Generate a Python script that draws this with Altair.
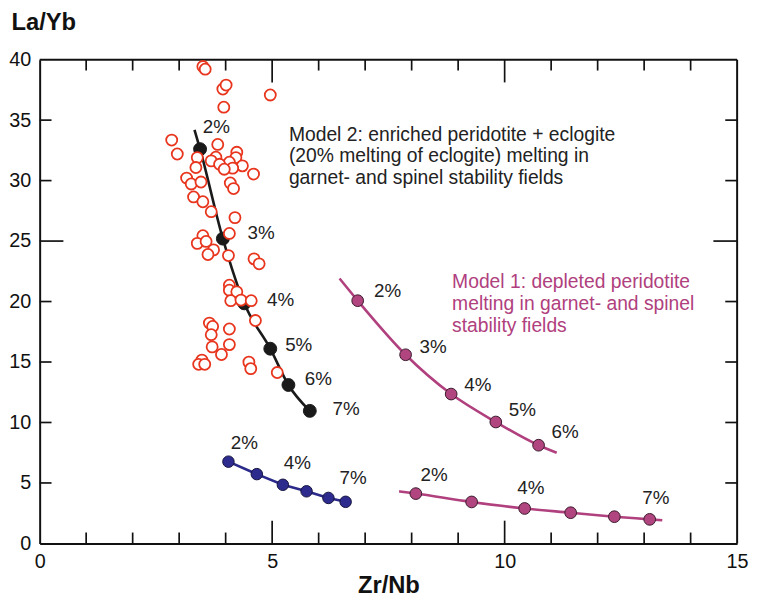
import altair as alt
import pandas as pd

FONT = "Liberation Sans"

# ---------------- data ----------------
red_x = [3.51, 3.56, 3.94, 4.01, 4.96, 3.96, 2.84, 2.96, 3.83, 3.39, 3.79, 3.69, 4.24, 4.22, 4.08,
         3.87, 4.36, 4.15, 3.97, 3.36, 4.60, 3.16, 3.26, 3.47, 4.10, 4.17, 3.31, 3.51, 3.69, 4.20,
         4.08, 3.51, 3.39, 3.58, 3.74, 3.62, 4.06, 4.61, 4.72, 4.08, 4.08, 4.24, 4.11, 4.33, 4.55,
         4.64, 3.65, 3.72, 3.69, 4.08, 3.71, 4.08, 3.91, 3.49, 3.42, 3.55, 4.50, 4.54, 5.11]
red_y = [39.43, 39.21, 37.57, 37.90, 37.08, 36.07, 33.35, 32.20, 32.99, 31.90, 31.93, 31.63, 32.34, 31.90, 31.52,
         31.35, 31.22, 31.03, 30.94, 31.08, 30.54, 30.21, 29.72, 29.88, 29.80, 29.34, 28.65, 28.25, 27.43, 26.94,
         25.63, 25.44, 24.81, 24.97, 24.27, 23.89, 23.80, 23.53, 23.12, 21.35, 20.94, 20.80, 20.07, 20.12, 20.07,
         18.43, 18.22, 17.94, 17.26, 17.73, 16.25, 16.44, 15.62, 15.16, 14.81, 14.81, 14.99, 14.45, 14.13]

# Model 2 (black)
m2_x = [3.45, 3.94, 4.40, 4.96, 5.35, 5.81]
m2_y = [32.6, 25.2, 19.85, 16.1, 13.1, 10.96]
m2_line_x = [3.33] + m2_x
m2_line_y = [34.2] + m2_y
m2_lab = ["2%", "3%", "4%", "5%", "6%", "7%"]
m2_lab_x = [3.51, 4.47, 4.89, 5.28, 5.70, 6.30]
m2_lab_y = [34.4, 25.7, 20.1, 16.4, 13.6, 11.1]

# Model 1 upper (magenta)
m1a_x = [6.84, 7.87, 8.85, 9.81, 10.73]
m1a_y = [20.07, 15.6, 12.35, 10.04, 8.12]
m1a_line_x = [6.45] + m1a_x + [11.12]
m1a_line_y = [21.9] + m1a_y + [7.5]
m1a_lab = ["2%", "3%", "4%", "5%", "6%"]
m1a_lab_x = [7.19, 8.17, 9.13, 10.09, 11.01]
m1a_lab_y = [20.9, 16.2, 13.1, 11.0, 9.24]

# Model 1 lower (magenta)
m1b_x = [8.09, 9.29, 10.43, 11.42, 12.36, 13.12]
m1b_y = [4.12, 3.43, 2.89, 2.54, 2.21, 1.99]
m1b_line_x = [7.73] + m1b_x + [13.39]
m1b_line_y = [4.31] + m1b_y + [1.91]
m1b_lab = ["2%", "4%", "7%"]
m1b_lab_x = [8.19, 10.27, 12.96]
m1b_lab_y = [5.67, 4.58, 3.76]

# Blue series
bl_x = [4.06, 4.67, 5.23, 5.74, 6.21, 6.58]
bl_y = [6.76, 5.73, 4.85, 4.31, 3.76, 3.44]
bl_lab = ["2%", "4%", "7%"]
bl_lab_x = [4.11, 5.25, 6.45]
bl_lab_y = [8.26, 6.63, 5.4]

model2_text = ["Model 2: enriched peridotite + eclogite",
               "(20% melting of eclogite) melting in",
               "garnet- and spinel stability fields"]
model2_pos = (5.36, 33.8)
model1_text = ["Model 1: depleted peridotite",
               "melting in garnet- and spinel",
               "stability fields"]
model1_pos = (8.87, 21.6)

x_ticks_minor = [1, 2, 3, 4, 6, 7, 8, 9, 11, 12, 13, 14]
x_ticks_major = [5, 10]
y_ticks_minor = [5, 10, 15, 20, 30, 35]
y_ticks_major = [25]
x_labels = [0, 5, 10, 15]
y_labels = [0, 5, 10, 15, 20, 25, 30, 35, 40]

W, H = 705, 489
MAGENTA = "#b0407e"
BLUE = "#2b2a8a"
RED = "#e8351d"
INK = "#111"

def frame(xs, ys, **extra):
    d = {"x": xs, "y": ys}
    d.update(extra)
    return pd.DataFrame(d)

xs = alt.Scale(domain=[0, 15], nice=False, zero=False)
ys = alt.Scale(domain=[0, 40], nice=False, zero=False)

xaxis = alt.Axis(values=x_labels, title="Zr/Nb", ticks=False, domain=True, domainColor=INK,
                 domainWidth=2, grid=False,
                 labelFontSize=20, labelFont=FONT, labelColor=INK, labelPadding=8,
                 labelFlush=False, titleFont=FONT, titleFontSize=24, titleFontWeight="bold",
                 titleColor=INK, titlePadding=3)
yaxis = alt.Axis(values=y_labels, title="La/Yb", ticks=False, domain=True, domainColor=INK,
                 domainWidth=2, grid=False,
                 labelFontSize=20, labelFont=FONT, labelColor=INK, labelPadding=9,
                 labelFlush=False, titleFont=FONT, titleFontSize=24, titleFontWeight="bold",
                 titleColor=INK, titleAngle=0, titleAlign="left", titleBaseline="middle",
                 titleX=-29, titleY=-37)

X = alt.X("x:Q", scale=xs, axis=xaxis)
Y = alt.Y("y:Q", scale=ys, axis=yaxis)

def xrule(vals, y0, y1):
    return alt.Chart(pd.DataFrame({"x": vals})).mark_rule(color=INK, strokeWidth=1.7).encode(
        x=X, y=alt.value(y0), y2=alt.value(y1))

def yrule(vals, x0, x1):
    return alt.Chart(pd.DataFrame({"y": vals})).mark_rule(color=INK, strokeWidth=1.7).encode(
        y=Y, x=alt.value(x0), x2=alt.value(x1))

ticks = [
    xrule(x_ticks_minor, H, H - 11), xrule(x_ticks_major, H, H - 23),
    xrule(x_ticks_minor, 0, 11), xrule(x_ticks_major, 0, 23),
    yrule(y_ticks_minor, 0, 12), yrule(y_ticks_major, 0, 24),
    yrule(y_ticks_minor, W, W - 12), yrule(y_ticks_major, W, W - 24),
]

# top and right border lines of the frame
border = [
    alt.Chart(pd.DataFrame({"k": [0]})).mark_rule(color=INK, strokeWidth=2).encode(
        x=alt.value(0), x2=alt.value(W), y=alt.value(0)),
    alt.Chart(pd.DataFrame({"k": [0]})).mark_rule(color=INK, strokeWidth=2).encode(
        x=alt.value(W), y=alt.value(0), y2=alt.value(H)),
]

def line(xv, yv, color, interp="monotone"):
    return alt.Chart(frame(xv, yv, o=list(range(len(xv))))).mark_line(
        color=color, strokeWidth=2.6, interpolate=interp).encode(x=X, y=Y, order="o:O")

def pts(xv, yv, fill, stroke, size):
    return alt.Chart(frame(xv, yv)).mark_point(
        shape="circle", filled=True, fill=fill, stroke=stroke, strokeWidth=1.0,
        size=size, opacity=1).encode(x=X, y=Y)

def labels(xv, yv, txt, color="#222"):
    return alt.Chart(frame(xv, yv, t=txt)).mark_text(
        align="left", baseline="middle", font=FONT, fontSize=19, color=color).encode(
        x=X, y=Y, text="t:N")

red = alt.Chart(frame(red_x, red_y)).mark_point(
    shape="circle", filled=True, fill="white", stroke=RED, strokeWidth=1.8,
    size=125, opacity=1).encode(x=X, y=Y)

m2_note = alt.Chart(frame([model2_pos[0]], [model2_pos[1]])).mark_text(
    align="left", baseline="middle", font=FONT, fontSize=19.5, lineHeight=22, color="#222").encode(
    x=X, y=Y, text=alt.value(model2_text))
m1_note = alt.Chart(frame([model1_pos[0]], [model1_pos[1]])).mark_text(
    align="left", baseline="middle", font=FONT, fontSize=19.5, lineHeight=22, color=MAGENTA).encode(
    x=X, y=Y, text=alt.value(model1_text))

layers = ticks + border + [
    line(m2_line_x, m2_line_y, "#1a1a1a"),
    pts(m2_x, m2_y, "#1a1a1a", "#1a1a1a", 170),
    red,
    line(bl_x, bl_y, BLUE, "linear"),
    pts(bl_x, bl_y, "#2e2b8f", "#15143f", 135),
    line(m1a_line_x, m1a_line_y, MAGENTA),
    pts(m1a_x, m1a_y, "#b0457f", "#3a1a2c", 140),
    line(m1b_line_x, m1b_line_y, MAGENTA),
    pts(m1b_x, m1b_y, "#b0457f", "#3a1a2c", 140),
    labels(m2_lab_x, m2_lab_y, m2_lab),
    labels(m1a_lab_x, m1a_lab_y, m1a_lab),
    labels(m1b_lab_x, m1b_lab_y, m1b_lab),
    labels(bl_lab_x, bl_lab_y, bl_lab),
    m2_note, m1_note,
]

chart = alt.layer(*layers).properties(
    width=W, height=H,
    background="white",
    autosize=alt.AutoSizeParams(type="none"),
    padding={"left": 32, "top": 49, "right": 12, "bottom": 56},
).configure_view(stroke=None)

chart.save("out.html", embed_options={"renderer": "svg", "actions": False})
